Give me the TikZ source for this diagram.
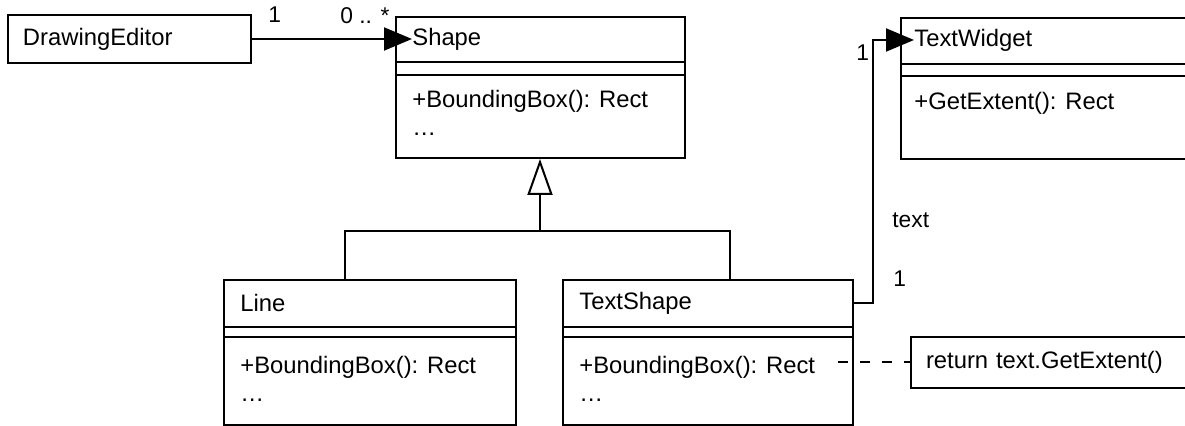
\documentclass[tikz,border=0pt]{standalone}
\usepackage{fontspec}
\setmainfont{Liberation Sans}
\usetikzlibrary{positioning,arrows.meta,calc}

\tikzset{
    classbox/.style={draw, line width=1pt, anchor=north west, inner sep=0pt},
    notebox/.style={draw, line width=1pt, anchor=north west, inner xsep=7.5pt, inner ysep=0pt, align=left},
    title/.style={anchor=west, inner sep=0pt},
    ops/.style={anchor=north west, inner sep=0pt, align=left},
    mult/.style={anchor=west, inner sep=0pt, font=\fontsize{11.4pt}{13pt}\selectfont},
    assoc/.style={line width=1pt, -{Triangle[length=14pt, width=11.5pt]}},
    inherit/.style={line width=1pt, -{Triangle[open, length=18pt, width=12.5pt]}},
    plain/.style={line width=1pt},
    noteline/.style={line width=1pt, dash pattern=on 5pt off 6pt}
}

\begin{document}
\begin{tikzpicture}[x=0.5pt, y=-0.5pt, every node/.style={font=\fontsize{11.9pt}{14pt}\selectfont}]
    \clip (0,0) rectangle (1185,426);

    % class boxes
    \node[notebox, minimum height=24pt, text width=106.5pt] (editor) at (7,14) {DrawingEditor};
    \node[classbox, minimum width=144.5pt, minimum height=70.5pt] (shape) at (395,16) {};
    \node[classbox, minimum width=160pt, minimum height=70.5pt] (widget) at (900,17) {};
    \node[classbox, minimum width=146pt, minimum height=72.5pt] (line) at (223,279) {};
    \node[classbox, minimum width=145pt, minimum height=72.5pt] (textshape) at (562,279) {};
    \node[notebox, minimum height=25.5pt, text width=135pt] (note) at (910,336) {return text.GetExtent()};

    % compartments
    \foreach \b/\ya/\yb in {shape/46/59, widget/47/59, line/48/58, textshape/48/58} {
        \draw[plain] ($(\b.north west)+(0,\ya)$) -- ($(\b.north east)+(0,\ya)$);
        \draw[plain] ($(\b.north west)+(0,\yb)$) -- ($(\b.north east)+(0,\yb)$);
    }

    % names and operations
    \node[title] (shapeName) at ($(shape.north west)+(17,23)$) {Shape};
    \node[title] (widgetName) at ($(widget.north west)+(14,23)$) {TextWidget};
    \node[title] (lineName) at ($(line.north west)+(17,24)$) {Line};
    \node[title] (textshapeName) at ($(textshape.north west)+(17,24)$) {TextShape};
    \node[ops] (shapeOps) at ($(shape.north west)+(17,74)$) {+BoundingBox(): Rect\\\ldots};
    \node[ops] (widgetOps) at ($(widget.north west)+(14,75)$) {+GetExtent(): Rect};
    \node[ops] (lineOps) at ($(line.north west)+(17,77)$) {+BoundingBox(): Rect\\\ldots};
    \node[ops] (textshapeOps) at ($(textshape.north west)+(17,77)$) {+BoundingBox(): Rect\\\ldots};

    % editor holds shapes
    \draw[assoc] (editor.east) -- (editor.east -| shapeName.west);
    \node[mult] (editorMult) at (268,15) {1};
    \node[mult] (shapeMult) at (340,16) {0 .. *};

    % subclasses
    \coordinate (fork) at (540,231);
    \draw[inherit] (fork) -- (fork |- shape.south);
    \draw[plain] (line.north -| 345,0) |- (fork) -| (textshape.north -| 730,0);

    % text shape keeps a widget
    \coordinate (bend) at (873,0);
    \draw[assoc] (textshapeName -| textshape.east) -| (bend |- widgetName.west) -- (widgetName.west);
    \node[mult] (widgetMult) at (856,53) {1};
    \node[mult] (roleName) at (892,220) {text};
    \node[mult] (textshapeMult) at (893,279) {1};

    % implementation note
    \draw[noteline] (note.west -| 838,0) -- (note.west);
\end{tikzpicture}
\end{document}
